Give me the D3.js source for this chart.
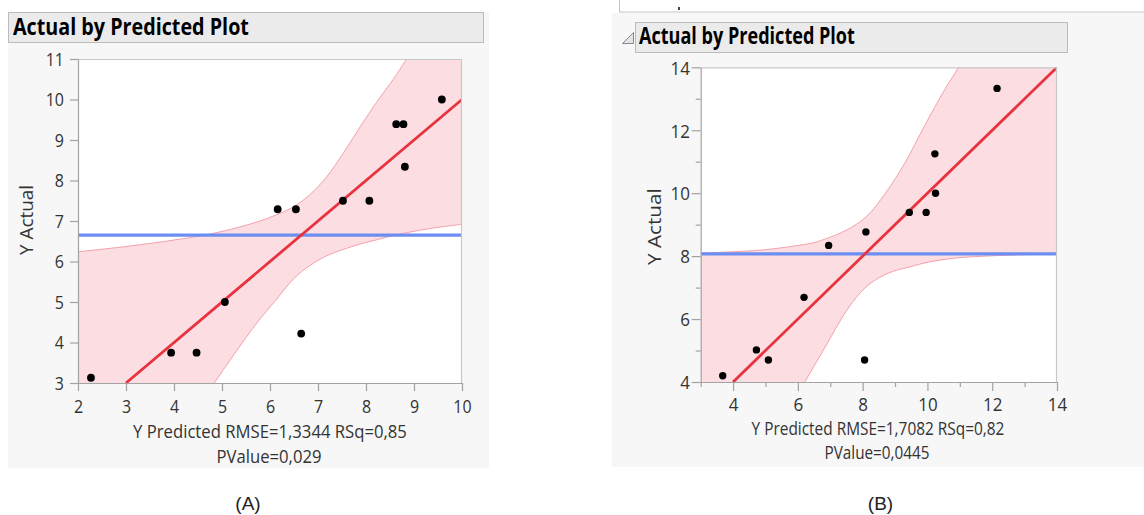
<!DOCTYPE html>
<html>
<head>
<meta charset="utf-8">
<script src="https://cdn.jsdelivr.net/npm/d3@7"></script>
<style>
  body { margin: 0; background: #ffffff; }
  svg { display: block; }
</style>
</head>
<body>
<svg id="chart" width="1144" height="515"></svg>
<script>
// ---------------- DATA ----------------
const plotTitle = "Actual by Predicted Plot";
const yAxisTitle = "Y Actual";

// Panel A
const predictedA = [2.27, 3.94, 4.47, 5.06, 6.16, 6.54, 6.65, 7.52, 8.07, 8.63, 8.78, 8.81, 9.58];
const actualA    = [3.13, 3.75, 3.75, 5.00, 7.29, 7.29, 4.22, 7.50, 7.50, 9.39, 9.39, 8.34, 10.00];
const meanActualA = 6.65;
const fitLineA = [3, 10];            // fitted line: actual = predicted, from..to
const upperBandXA = [2, 3, 4, 4.67, 5.2, 5.79, 6.125, 6.49, 6.83, 7.18, 7.53, 7.875, 8.22, 8.57, 8.83, 9.3, 10];
const upperBandYA = [6.24, 6.37, 6.53, 6.66, 6.80, 7.00, 7.15, 7.35, 7.65, 8.09, 8.68, 9.32, 9.93, 10.5, 10.97, 11.8, 13.0];
const lowerBandXA = [2, 3, 4, 4.5, 4.84, 5.2, 5.5, 5.79, 6.125, 6.49, 6.83, 7.18, 7.53, 7.875, 8.2, 8.57, 9.26, 10];
const lowerBandYA = [-2.2, -0.4, 1.5, 2.4, 3.0, 3.62, 4.12, 4.58, 5.05, 5.57, 5.90, 6.14, 6.30, 6.43, 6.53, 6.64, 6.80, 6.92];
const xTicksA = [2, 3, 4, 5, 6, 7, 8, 9, 10];
const yTicksA = [3, 4, 5, 6, 7, 8, 9, 10, 11];
const statLine1A = "Y Predicted RMSE=1,3344 RSq=0,85";
const statLine2A = "PValue=0,029";
const captionA = "(A)";

// Panel B
const predictedB = [3.68, 4.72, 5.09, 6.19, 6.95, 8.10, 8.06, 9.44, 9.96, 10.23, 10.25, 12.15];
const actualB    = [4.20, 5.02, 4.70, 6.69, 8.34, 8.77, 4.70, 9.39, 9.39, 11.25, 10.00, 13.33];
const meanActualB = 8.07;
const fitLineB = [4, 14];
const upperBandXB = [3, 4, 4.86, 5.88, 6.5, 6.91, 7.49, 8.11, 8.71, 9.31, 9.92, 10.51, 10.96, 12, 14];
const upperBandYB = [8.09, 8.14, 8.19, 8.32, 8.43, 8.57, 8.82, 9.25, 10.01, 10.97, 12.16, 13.25, 14.0, 15.8, 19.5];
const lowerBandXB = [3, 4, 5, 5.6, 6.19, 6.91, 7.43, 7.94, 8.4, 8.95, 9.46, 10.08, 11, 12, 13.68, 14];
const lowerBandYB = [-1.5, 0.2, 1.9, 2.95, 3.96, 5.23, 6.15, 6.85, 7.25, 7.52, 7.66, 7.82, 7.95, 8.01, 8.07, 8.08];
const xTicksB = [4, 6, 8, 10, 12, 14];
const xMinorTicksB = [3, 5, 7, 9, 11, 13];
const yTicksB = [4, 6, 8, 10, 12, 14];
const yMinorTicksB = [5, 7, 9, 11, 13];
const statLine1B = "Y Predicted RMSE=1,7082 RSq=0,82";
const statLine2B = "PValue=0,0445";
const captionB = "(B)";

// ---------------- STYLE / LAYOUT ----------------
const FONT = "'Open Sans', 'Noto Sans', sans-serif";
const COLORS = {
  bg: "#f7f7f7", titleBar: "#ebebeb", titleBorder: "#bcbcbc",
  axis: "#a3a3a3", frame: "#c8c8c8", text: "#333333",
  band: "#fcdde2", bandEdge: "#f3a1ab", fit: "#e8333f", mean: "#6c8df2", point: "#000000"
};

const svg = d3.select("#chart");

function fitLabel(parent, str, o) {
  const t = parent.append("text").text(str)
    .attr("font-family", o.family || FONT)
    .attr("font-weight", o.bold ? "bold" : "normal")
    .attr("font-size", 20)
    .attr("fill", o.fill || COLORS.text)
    .attr("text-anchor", o.anchor || "middle");
  const L = t.node().getComputedTextLength();
  const fs = 20 * o.w / L;
  t.attr("font-size", fs);
  const sy = o.cap ? o.cap / (0.714 * fs) : 1;
  t.attr("transform", `translate(${o.x},${o.y}) rotate(${o.rot || 0}) scale(1,${sy})`);
  return t;
}

function drawPanel(id, L, D) {
  const g = svg.append("g").attr("id", id);
  g.append("rect").attr("x", L.bg[0]).attr("y", L.bg[1]).attr("width", L.bg[2]).attr("height", L.bg[3]).attr("fill", COLORS.bg);
  g.append("rect").attr("x", L.bar[0] + 0.5).attr("y", L.bar[1] + 0.5).attr("width", L.bar[2]).attr("height", L.bar[3])
    .attr("fill", COLORS.titleBar).attr("stroke", COLORS.titleBorder);
  fitLabel(g, plotTitle, { x: L.title.x, y: L.title.y, w: L.title.w, cap: L.title.cap, bold: true, anchor: "start", fill: "#000" });

  const x = d3.scaleLinear().domain(D.xDomain).range([L.plot[0], L.plot[2]]);
  const y = d3.scaleLinear().domain(D.yDomain).range([L.plot[3], L.plot[1]]);
  const [x0, y0, x1, y1] = L.plot;

  g.append("rect").attr("x", x0).attr("y", y0).attr("width", x1 - x0).attr("height", y1 - y0).attr("fill", "#fff");

  const clipId = id + "-clip";
  g.append("clipPath").attr("id", clipId).append("rect")
    .attr("x", x0).attr("y", y0).attr("width", x1 - x0).attr("height", y1 - y0);
  const inner = g.append("g").attr("clip-path", `url(#${clipId})`);

  const line = d3.line().x(d => x(d[0])).y(d => y(d[1])).curve(d3.curveCatmullRom.alpha(0.5));
  const up = D.upX.map((v, i) => [v, D.upY[i]]);
  const lo = D.loX.map((v, i) => [v, D.loY[i]]);
  const upPath = line(up);
  const loRevPath = line(lo.slice().reverse());
  inner.append("path").attr("d", upPath + "L" + loRevPath.slice(1) + "Z").attr("fill", COLORS.band);
  inner.append("path").attr("d", upPath).attr("fill", "none").attr("stroke", COLORS.bandEdge).attr("stroke-width", 1);
  inner.append("path").attr("d", line(lo)).attr("fill", "none").attr("stroke", COLORS.bandEdge).attr("stroke-width", 1);

  inner.append("line").attr("x1", x0).attr("x2", x1).attr("y1", y(D.mean)).attr("y2", y(D.mean))
    .attr("stroke", COLORS.mean).attr("stroke-width", 3.2);
  inner.append("line").attr("x1", x(D.fit[0])).attr("y1", y(D.fit[0])).attr("x2", x(D.fit[1])).attr("y2", y(D.fit[1]))
    .attr("stroke", COLORS.fit).attr("stroke-width", 2.8);

  inner.selectAll("circle.pt").data(D.px.map((v, i) => [v, D.py[i]])).join("circle")
    .attr("class", "pt").attr("cx", d => x(d[0])).attr("cy", d => y(d[1])).attr("r", L.r).attr("fill", COLORS.point);

  // frame top/right
  g.append("path").attr("d", `M${x0},${y0 + 0.5}H${x1 - 0.5}V${y1}`).attr("fill", "none").attr("stroke", COLORS.frame).attr("stroke-width", 1.2);

  // axes
  const xa = g.append("g").attr("transform", `translate(0,${y1})`)
    .call(d3.axisBottom(x).tickValues(D.xTicks).tickSize(L.tick).tickSizeOuter(0).tickFormat(d3.format("d")));
  if (D.xMinor) {
    g.append("g").attr("transform", `translate(0,${y1})`)
      .call(d3.axisBottom(x).tickValues(D.xMinor).tickSize(L.minor).tickSizeOuter(0).tickFormat(""))
      .call(s => s.select(".domain").remove());
  }
  const ya = g.append("g").attr("transform", `translate(${x0},0)`)
    .call(d3.axisLeft(y).tickValues(D.yTicks).tickSize(L.tick).tickSizeOuter(0).tickFormat(d3.format("d")));
  if (D.yMinor) {
    g.append("g").attr("transform", `translate(${x0},0)`)
      .call(d3.axisLeft(y).tickValues(D.yMinor).tickSize(L.minor).tickSizeOuter(0).tickFormat(""))
      .call(s => s.select(".domain").remove());
  }
  g.selectAll(".domain, .tick line").attr("stroke", COLORS.axis).attr("stroke-width", 1.2);
  xa.selectAll("text").attr("font-family", FONT).attr("font-size", L.tickFont).attr("fill", COLORS.text)
    .attr("y", null).attr("dy", null)
    .attr("transform", `translate(0,${L.xTickBase - y1}) scale(1,${L.tickSy})`);
  ya.selectAll("text").attr("font-family", FONT).attr("font-size", L.tickFont).attr("fill", COLORS.text)
    .attr("x", null).attr("dy", null).attr("text-anchor", "end")
    .attr("transform", `translate(${L.yTickRight - x0},${0.714 * L.tickFont * L.tickSy / 2}) scale(1,${L.tickSy})`);

  fitLabel(g, yAxisTitle, { x: L.ylab.x, y: L.ylab.y, w: L.ylab.w, cap: L.ylab.cap, rot: -90 });
  fitLabel(g, D.stat1, { x: L.stat1.x, y: L.stat1.y, w: L.stat1.w, cap: L.stat1.cap });
  fitLabel(g, D.stat2, { x: L.stat2.x, y: L.stat2.y, w: L.stat2.w, cap: L.stat2.cap });

  g.append("text").text(D.caption).attr("x", L.caption.x).attr("y", L.caption.y)
    .attr("text-anchor", "middle").attr("font-family", "'Liberation Sans', Arial, sans-serif")
    .attr("font-size", 19).attr("fill", "#222");
}

drawPanel("panelA", {
  bg: [8, 12, 481, 456], bar: [8, 12, 475, 30],
  title: { x: 13, y: 35, w: 236, cap: 16 },
  plot: [78, 59, 462, 383], r: 3.9, tick: 8, minor: 5,
  tickFont: 16, tickSy: 1.12, xTickBase: 413, yTickRight: 64,
  ylab: { x: 33.3, y: 220, w: 70, cap: 13.3 },
  stat1: { x: 270, y: 438, w: 274, cap: 13.3 },
  stat2: { x: 269, y: 463, w: 105, cap: 12.5 },
  caption: { x: 248, y: 510 }
}, {
  xDomain: [2, 10], yDomain: [3, 11],
  px: predictedA, py: actualA, mean: meanActualA, fit: fitLineA,
  upX: upperBandXA, upY: upperBandYA, loX: lowerBandXA, loY: lowerBandYA,
  xTicks: xTicksA, yTicks: yTicksA,
  stat1: statLine1A, stat2: statLine2A, caption: captionA
});

drawPanel("panelB", {
  bg: [612, 13, 532, 454], bar: [635, 22, 432, 30],
  title: { x: 639, y: 44.3, w: 216, cap: 16 },
  plot: [700.7, 67.3, 1057, 382], r: 3.7, tick: 9, minor: 5,
  tickFont: 17, tickSy: 1.12, xTickBase: 410.5, yTickRight: 690,
  ylab: { x: 660.7, y: 226.7, w: 76.7, cap: 13.3 },
  stat1: { x: 878, y: 435, w: 253, cap: 12.3 },
  stat2: { x: 877, y: 459.3, w: 105, cap: 12.6 },
  caption: { x: 880.5, y: 510 }
}, {
  xDomain: [3, 14], yDomain: [4, 14],
  px: predictedB, py: actualB, mean: meanActualB, fit: fitLineB,
  upX: upperBandXB, upY: upperBandYB, loX: lowerBandXB, loY: lowerBandYB,
  xTicks: xTicksB, xMinor: xMinorTicksB, yTicks: yTicksB, yMinor: yMinorTicksB,
  stat1: statLine1B, stat2: statLine2B, caption: captionB
});

// remnant of the box above panel B (cut off at the top of the picture)
svg.append("rect").attr("x", 619.5).attr("y", -5).attr("width", 540).attr("height", 17)
  .attr("fill", "#ffffff").attr("stroke", "#c4c4c4");
svg.append("rect").attr("x", 678).attr("y", 7).attr("width", 2).attr("height", 3).attr("fill", "#444");

// collapse triangle icon for panel B
svg.append("path").attr("d", "M622.5,43.5L633.5,32.5V43.5Z").attr("fill", "#e4e4e4").attr("stroke", "#8a8a8a").attr("stroke-width", 1);
</script>
</body>
</html>
